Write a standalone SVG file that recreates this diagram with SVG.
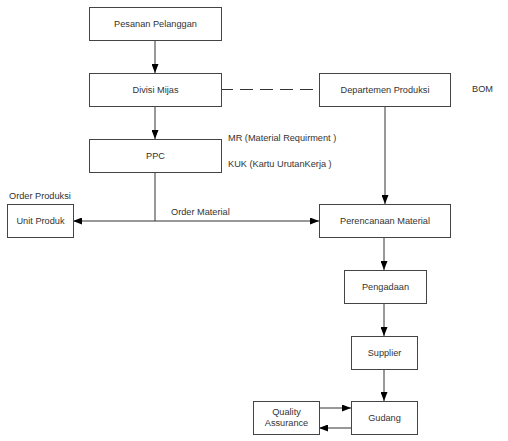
<svg xmlns="http://www.w3.org/2000/svg" width="508" height="441" viewBox="0 0 508 441">
<defs>
<marker id="ah" markerWidth="9" markerHeight="7" refX="9" refY="3.5" orient="auto" markerUnits="userSpaceOnUse">
<path d="M0,0 L9,3.5 L0,7 Z" fill="#000"/>
</marker>
<style>
.b{fill:#fff;stroke:#444;stroke-width:1}
.t{font-family:"Liberation Sans",Arial,sans-serif;font-size:9.2px;fill:#333}
.m{text-anchor:middle}
.c{fill:none;stroke:#333;stroke-width:1}
</style>
</defs>
<rect width="508" height="441" fill="#fff"/>
<g id="connectors">
<line class="c" x1="155" y1="40" x2="155" y2="73" marker-end="url(#ah)"/>
<line class="c" x1="155" y1="106" x2="155" y2="139" marker-end="url(#ah)"/>
<line class="c" x1="220" y1="89.5" x2="319" y2="89.5" stroke-dasharray="13 7"/>
<line class="c" x1="385" y1="106" x2="385" y2="204" marker-end="url(#ah)"/>
<line class="c" x1="155" y1="172" x2="155" y2="221"/>
<line class="c" x1="155" y1="221" x2="73" y2="221" marker-end="url(#ah)"/>
<line class="c" x1="155" y1="221" x2="319" y2="221" marker-end="url(#ah)"/>
<line class="c" x1="384" y1="237" x2="384" y2="270" marker-end="url(#ah)"/>
<line class="c" x1="384" y1="303" x2="384" y2="336" marker-end="url(#ah)"/>
<line class="c" x1="384" y1="369" x2="384" y2="401" marker-end="url(#ah)"/>
<line class="c" x1="319" y1="408" x2="351" y2="408" marker-end="url(#ah)"/>
<line class="c" x1="351" y1="428" x2="319" y2="428" marker-end="url(#ah)"/>
</g>
<g id="pesanan"><rect class="b" x="89.5" y="7.5" width="132" height="33"/><text class="t m" x="155.5" y="27">Pesanan Pelanggan</text></g>
<g id="divisi"><rect class="b" x="89.5" y="73.5" width="132" height="33"/><text class="t m" x="155.5" y="93">Divisi Mijas</text></g>
<g id="ppc"><rect class="b" x="89.5" y="139.5" width="132" height="33"/><text class="t m" x="155.5" y="159">PPC</text></g>
<g id="departemen"><rect class="b" x="319.5" y="73.5" width="131" height="33"/><text class="t m" x="385" y="93">Departemen Produksi</text></g>
<g id="bom"><text class="t" x="472" y="92">BOM</text></g>
<g id="mr"><text class="t" x="228" y="141">MR (Material Requirment )</text></g>
<g id="kuk"><text class="t" x="228" y="167">KUK (Kartu UrutanKerja )</text></g>
<g id="orderproduksi"><text class="t" x="9" y="199">Order Produksi</text></g>
<g id="ordermaterial"><text class="t" x="171" y="215">Order Material</text></g>
<g id="unit"><rect class="b" x="7.5" y="204.5" width="66" height="33"/><text class="t m" x="40.5" y="224">Unit Produk</text></g>
<g id="perencanaan"><rect class="b" x="319.5" y="204.5" width="131" height="33"/><text class="t m" x="385" y="224">Perencanaan Material</text></g>
<g id="pengadaan"><rect class="b" x="344.5" y="270.5" width="82" height="33"/><text class="t m" x="385.5" y="290">Pengadaan</text></g>
<g id="supplier"><rect class="b" x="351.5" y="336.5" width="66" height="33"/><text class="t m" x="384.5" y="356">Supplier</text></g>
<g id="gudang"><rect class="b" x="351.5" y="401.5" width="66" height="33"/><text class="t m" x="384.5" y="421">Gudang</text></g>
<g id="qa"><rect class="b" x="253.5" y="401.5" width="66" height="33"/><text class="t m" x="286.5" y="415">Quality</text><text class="t m" x="286.5" y="426">Assurance</text></g>
</svg>
